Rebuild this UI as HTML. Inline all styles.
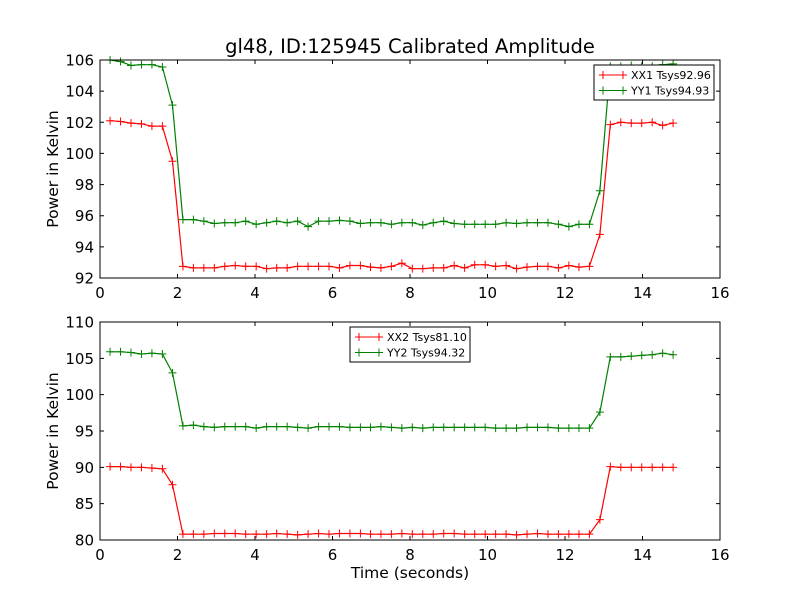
<!DOCTYPE html>
<html><head><meta charset="utf-8"><style>
body{margin:0;background:#fff;}
svg{display:block;font-family:"DejaVu Sans","Liberation Sans",sans-serif;}
</style></head><body>
<svg id="c" width="800" height="600"></svg>
<script>
const times=[0.26,0.53,0.80,1.07,1.34,1.61,1.87,2.14,2.41,2.68,2.95,3.22,3.49,3.76,4.03,4.30,4.56,4.83,5.10,5.37,5.64,5.91,6.18,6.45,6.72,6.98,7.25,7.52,7.79,8.06,8.33,8.60,8.87,9.14,9.41,9.67,9.94,10.21,10.48,10.75,11.02,11.29,11.56,11.83,12.10,12.36,12.63,12.90,13.17,13.44,13.71,13.98,14.25,14.52,14.79];
const xx1=[102.1,102.05,101.95,101.9,101.75,101.75,99.5,92.75,92.65,92.65,92.65,92.75,92.8,92.75,92.75,92.6,92.65,92.65,92.75,92.75,92.75,92.75,92.65,92.8,92.8,92.7,92.65,92.75,92.95,92.6,92.6,92.65,92.65,92.8,92.65,92.85,92.85,92.75,92.8,92.6,92.7,92.75,92.75,92.65,92.8,92.7,92.75,94.8,101.85,102.0,101.95,101.95,102.0,101.8,101.95];
const yy1=[106.0,105.9,105.65,105.7,105.7,105.55,103.1,95.75,95.75,95.65,95.5,95.55,95.55,95.65,95.45,95.55,95.65,95.55,95.65,95.3,95.65,95.65,95.7,95.65,95.5,95.55,95.55,95.45,95.55,95.55,95.4,95.55,95.65,95.5,95.45,95.45,95.45,95.45,95.55,95.5,95.55,95.55,95.55,95.45,95.3,95.45,95.45,97.6,105.6,105.6,105.65,105.6,105.6,105.7,105.75];
const xx2=[90.1,90.1,90.0,90.0,89.9,89.8,87.6,80.8,80.8,80.8,80.9,80.9,80.9,80.8,80.8,80.8,80.9,80.8,80.7,80.8,80.9,80.8,80.9,80.9,80.9,80.8,80.8,80.8,80.9,80.8,80.8,80.8,80.9,80.9,80.8,80.8,80.8,80.8,80.8,80.7,80.8,80.9,80.8,80.8,80.8,80.8,80.8,82.8,90.1,90.0,90.0,90.0,90.0,90.0,90.0];
const yy2=[105.9,105.9,105.8,105.6,105.7,105.6,103.0,95.7,95.8,95.6,95.5,95.6,95.6,95.6,95.4,95.6,95.6,95.6,95.5,95.4,95.6,95.6,95.6,95.5,95.5,95.5,95.6,95.5,95.4,95.5,95.4,95.5,95.5,95.5,95.5,95.5,95.5,95.4,95.4,95.4,95.5,95.5,95.5,95.4,95.4,95.4,95.4,97.6,105.2,105.2,105.3,105.4,105.5,105.7,105.5];
const xTicks=[0,2,4,6,8,10,12,14,16];
const yTicksTop=[92,94,96,98,100,102,104,106];
const yTicksBot=[80,85,90,95,100,105,110];

const svg=document.getElementById('c');
const NS='http://www.w3.org/2000/svg';
function mk(t,a,p){const e=document.createElementNS(NS,t);for(const k in a)e.setAttribute(k,a[k]);(p||svg).appendChild(e);return e;}

function panel(name,top,bot,ymin,ymax,yTicks,series,legend,xlabel){
  const L=100,R=720;
  const g=mk('g',{});
  
  
  const sx=v=>L+(v-0)/(16-0)*(R-L);
  const sy=v=>bot-(v-ymin)/(ymax-ymin)*(bot-top);
  mk('rect',{x:L,y:top,width:R-L,height:bot-top,fill:'#fff',stroke:'none'},g);
  series.forEach(s=>{
    const sg=mk('g',{},g);
    
    
    const pts=times.map((t,i)=>sx(t).toFixed(1)+','+sy(s.vals[i]).toFixed(1)).join(' ');
    mk('polyline',{points:pts,fill:'none',stroke:s.color,'stroke-width':1.2},sg);
    times.forEach((t,i)=>{
      const x=sx(t),y=sy(s.vals[i]);
      const m=mk('path',{d:`M${x-4},${y}H${x+4}M${x},${y-4}V${y+4}`,stroke:s.color,'stroke-width':1},sg);
      
      
    });
  });
  mk('rect',{x:L,y:top,width:R-L,height:bot-top,fill:'none',stroke:'#000','stroke-width':1},g);
  xTicks.forEach(v=>{
    const x=sx(v);
    mk('path',{d:`M${x},${bot}v-4M${x},${top}v4`,stroke:'#000'},g);
    const t=mk('text',{x:x,y:bot+20,'font-size':15,'text-anchor':'middle'},g);t.textContent=v;
    
    
  });
  yTicks.forEach(v=>{
    const y=sy(v);
    mk('path',{d:`M${L},${y}h4M${R},${y}h-4`,stroke:'#000'},g);
    const t=mk('text',{x:L-6,y:y+5.5,'font-size':15,'text-anchor':'end'},g);t.textContent=v;
    
    
  });
  const yl=mk('text',{x:0,y:0,'font-size':15.5,'text-anchor':'middle',transform:`translate(58,${(top+bot)/2}) rotate(-90)`},g);
  yl.textContent='Power in Kelvin';
  
  
  if(xlabel){
    const xl=mk('text',{x:410,y:578,'font-size':15.5,'text-anchor':'middle'},g);xl.textContent=xlabel;
    
    
  }
  const lg=mk('g',{},g);
  
  
  mk('rect',{x:legend.x,y:legend.y,width:120,height:35,fill:'#fff',stroke:'#000','stroke-width':1},lg);
  series.forEach((s,i)=>{
    const y=legend.y+10+i*15.5;
    const e=mk('g',{},lg);
    
    
    mk('path',{d:`M${legend.x+5},${y}h28M${legend.x+9},${y-4}v8M${legend.x+29},${y-4}v8`,stroke:s.color,'stroke-width':1},e);
    const t=mk('text',{x:legend.x+37,y:y+4,'font-size':11},e);t.textContent=s.label;
  });
}
const title=mk('text',{x:410,y:53,'font-size':19.5,'text-anchor':'middle'});
title.textContent='gl48, ID:125945 Calibrated Amplitude';


panel('top-panel',60,278,92,106,yTicksTop,[{name:'series-xx1',vals:xx1,color:'#ff0000',label:'XX1 Tsys92.96'},{name:'series-yy1',vals:yy1,color:'#008000',label:'YY1 Tsys94.93'}],{x:594,y:65},null);
panel('bottom-panel',322,540,80,110,yTicksBot,[{name:'series-xx2',vals:xx2,color:'#ff0000',label:'XX2 Tsys81.10'},{name:'series-yy2',vals:yy2,color:'#008000',label:'YY2 Tsys94.32'}],{x:350,y:327},'Time (seconds)');
</script>
</body></html>
